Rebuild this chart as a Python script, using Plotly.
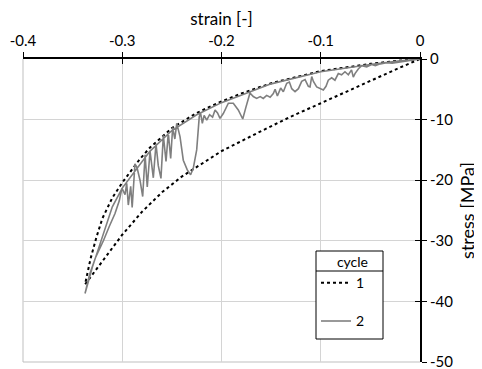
import plotly.graph_objects as go

# ---- data ----
cycle1_load_strain = [0, -0.02, -0.05, -0.1, -0.15, -0.18, -0.2, -0.225, -0.25, -0.272, -0.2822,
                      -0.29, -0.3, -0.31, -0.32, -0.326, -0.332, -0.3375]
cycle1_load_stress = [0, -0.25, -0.8, -2.0, -4.0, -5.7, -7.0, -8.9, -11.4, -14.6, -16.5,
                      -18.2, -20.4, -22.9, -26.3, -29.4, -33.0, -37.2]
cycle1_unload_strain = [-0.3375, -0.32, -0.30, -0.28, -0.26, -0.24, -0.2, -0.16, -0.13, -0.1,
                        -0.08, -0.05, -0.02, 0]
cycle1_unload_stress = [-37.2, -33.3, -29.0, -25.2, -22.0, -19.4, -15.2, -11.9, -9.5, -7.3,
                        -5.8, -3.6, -1.4, 0]

cycle2_load_strain = [0, -0.02, -0.05, -0.1, -0.15, -0.18, -0.2, -0.225, -0.25, -0.272,
                      -0.29, -0.3, -0.31, -0.3217, -0.33, -0.3375]
cycle2_load_stress = [0, -0.3, -0.9, -2.1, -4.1, -5.9, -7.2, -9.2, -11.8, -15.2,
                      -19.0, -21.3, -24.4, -30.0, -34.3, -38.7]
cycle2_unload_strain = [-0.3375, -0.333, -0.327, -0.319, -0.313, -0.3073, -0.303, -0.3003, -0.2972,
                        -0.2955, -0.2939, -0.2915, -0.290, -0.2872, -0.285, -0.2821, -0.2794, -0.277,
                        -0.2748, -0.272, -0.2687, -0.266, -0.2637, -0.261, -0.2586, -0.2559, -0.2536,
                        -0.2512, -0.2492, -0.247, -0.2451, -0.2418, -0.2385, -0.2345, -0.2311, -0.2284,
                        -0.225, -0.2224, -0.221, -0.2193, -0.2175, -0.2149, -0.212, -0.209, -0.2065,
                        -0.204, -0.2015, -0.1982, -0.1931, -0.1881, -0.1831, -0.1786, -0.1753, -0.1713,
                        -0.168, -0.1646, -0.161, -0.1579, -0.1545, -0.151, -0.1478, -0.146, -0.1437,
                        -0.1404, -0.1377, -0.1343, -0.1316, -0.1292, -0.1259, -0.1225, -0.1192, -0.1158,
                        -0.1125, -0.1108, -0.1091, -0.1074, -0.1041, -0.1008, -0.0974, -0.0947, -0.0924,
                        -0.089, -0.0857, -0.0823, -0.079, -0.0756, -0.0722, -0.069, -0.0672, -0.0655,
                        -0.062, -0.0587, -0.0537, -0.0487, -0.045, -0.040, -0.0336, -0.028, -0.020,
                        -0.012, 0]
cycle2_unload_stress = [-38.7, -35.6, -32.8, -30.0, -27.6, -25.5, -23.4, -21.3, -22.4,
                        -20.5, -24.1, -21.0, -24.5, -17.3, -18.0, -20.0, -22.7, -15.8,
                        -21.1, -15.2, -19.6, -14.0, -17.6, -19.7, -12.6, -16.9, -12.2,
                        -16.4, -11.3, -13.2, -10.6, -12.8, -16.7, -18.3, -19.1, -18.0,
                        -15.0, -9.5, -9.0, -10.6, -9.3, -10.1, -9.2, -9.6, -8.4,
                        -8.9, -9.8, -9.0, -7.3, -7.3, -8.4, -9.9, -7.9, -5.6,
                        -6.2, -6.5, -6.2, -6.5, -6.0, -6.3, -5.7, -5.0, -6.1,
                        -4.8, -5.4, -4.0, -3.8, -4.9, -5.4, -4.9, -3.7, -3.4,
                        -4.5, -4.6, -2.9, -3.7, -4.6, -4.8, -5.1, -4.5, -3.5,
                        -3.1, -3.5, -2.4, -2.6, -2.1, -2.6, -1.8, -3.0, -2.4,
                        -1.6, -1.1, -1.3, -0.9, -1.1, -0.8, -0.6, -0.7, -0.5,
                        -0.3, 0]

x_tickvals = [-0.4, -0.3, -0.2, -0.1, 0]
x_ticktext = ["-0.4", "-0.3", "-0.2", "-0.1", "0"]
y_tickvals = [0, -10, -20, -30, -40, -50]
y_ticktext = ["0", "-10", "-20", "-30", "-40", "-50"]

FONT = "Lato"
OFF = 8  # page body margin of the browser

fig = go.Figure()
fig.add_trace(go.Scatter(
    x=cycle1_load_strain + cycle1_unload_strain,
    y=cycle1_load_stress + cycle1_unload_stress,
    mode="lines", name="1", legendgroup="1",
    line=dict(color="black", width=2, dash="dot"),
))
fig.add_trace(go.Scatter(
    x=cycle2_load_strain + cycle2_unload_strain,
    y=cycle2_load_stress + cycle2_unload_stress,
    mode="lines", name="2", legendgroup="2",
    line=dict(color="#7f7f7f", width=1.6),
))

W, H = 482 - OFF, 369 - OFF
L, T = 23 - OFF, 59 - OFF
pw, ph = 397, 303
R, B = W - L - pw, H - T - ph

def px2paper_x(px):
    return (px - OFF - L) / pw

def px2paper_y(py):
    return (T + ph - (py - OFF)) / ph

fig.update_layout(
    width=W, height=H,
    margin=dict(l=L, r=R, t=T, b=B, pad=0, autoexpand=False),
    paper_bgcolor="white", plot_bgcolor="white",
    font=dict(family=FONT, size=14, color="black"),
    showlegend=True,
    legend=dict(
        x=px2paper_x(316), y=px2paper_y(249), xanchor="left", yanchor="top",
        bgcolor="rgba(0,0,0,0)", borderwidth=0,
        title=dict(text="cycle", side="top right", font=dict(size=14)),
        font=dict(size=14), tracegroupgap=17, itemwidth=30,
    ),
    xaxis=dict(
        range=[-0.4, 0], side="top", tickvals=x_tickvals, ticktext=x_ticktext,
        showgrid=True, gridcolor="#d4d4d4", gridwidth=1, zeroline=False,
        showline=True, linecolor="black", linewidth=2,
        ticks="outside", ticklen=5, tickcolor="black", tickwidth=1,
        tickfont=dict(size=15), automargin=False, ticklabeloverflow="allow",
        title=dict(text="strain [-]", font=dict(size=17, color="black"), standoff=8),
        fixedrange=True,
    ),
    yaxis=dict(
        range=[-50, 0], side="right", tickvals=y_tickvals, ticktext=y_ticktext,
        showgrid=True, gridcolor="#d4d4d4", gridwidth=1, zeroline=False,
        showline=True, linecolor="black", linewidth=2,
        ticks="outside", ticklen=5, tickcolor="black", tickwidth=1,
        tickfont=dict(size=15), automargin=False, ticklabeloverflow="allow",
        title=dict(text="stress [MPa]", font=dict(size=18, color="black"), standoff=9),
        fixedrange=True,
    ),
    xaxis2=dict(
        range=[-0.4, 0], overlaying="x", side="top", anchor="y", tickvals=x_tickvals,
        showticklabels=False, showgrid=False, zeroline=False, showline=False,
        ticks="inside", ticklen=5, tickcolor="black", tickwidth=1, fixedrange=True,
        automargin=False,
    ),
    yaxis2=dict(
        range=[-50, 0], overlaying="y", side="right", anchor="x", tickvals=y_tickvals,
        showticklabels=False, showgrid=False, zeroline=False, showline=False,
        ticks="inside", ticklen=5, tickcolor="black", tickwidth=1, fixedrange=True,
        automargin=False,
    ),
    shapes=[
        dict(type="line", xref="paper", yref="paper", x0=0, x1=0, y0=0, y1=1,
             line=dict(color="#bfbfbf", width=1), layer="below"),
        dict(type="line", xref="paper", yref="paper", x0=0, x1=1, y0=0, y1=0,
             line=dict(color="#bfbfbf", width=1), layer="below"),
        # legend frame and title separator
        dict(type="rect", xref="paper", yref="paper",
             x0=px2paper_x(316), x1=px2paper_x(383), y0=px2paper_y(339), y1=px2paper_y(251),
             fillcolor="white", line=dict(color="black", width=1), layer="above"),
        dict(type="line", xref="paper", yref="paper",
             x0=px2paper_x(316), x1=px2paper_x(383), y0=px2paper_y(271), y1=px2paper_y(271),
             line=dict(color="black", width=1), layer="above"),
    ],
)
fig.add_trace(go.Scatter(x=[None], y=[None], xaxis="x2", yaxis="y2", showlegend=False, hoverinfo="skip"))

fig.write_html("out.html")
